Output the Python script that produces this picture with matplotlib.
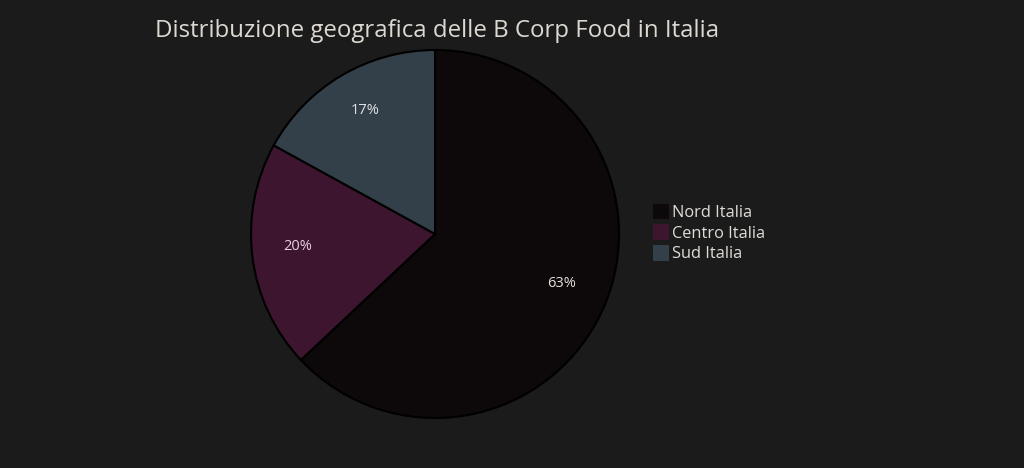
import matplotlib.pyplot as plt
from matplotlib.patches import Patch

plt.rcParams['font.family'] = ['Open Sans', 'DejaVu Sans']

labels = ['Nord Italia', 'Centro Italia', 'Sud Italia']
values = [63, 20, 17]
colors = ['#0d0809', '#3e152f', '#344049']
text_colors = ['#e6e0dc', '#e8cfe0', '#dfe3e6']

bg = '#1b1b1b'

fig = plt.figure(figsize=(10.24, 4.68), dpi=100, facecolor=bg)
# pie axes: center (435, 234) px, radius ~184 px
ax = fig.add_axes([(435 - 184) / 1024, 1 - (234 + 184) / 468, 368 / 1024, 368 / 468])
ax.set_facecolor(bg)

wedges, texts, autotexts = ax.pie(values, colors=colors, startangle=90, counterclock=False,
                                  autopct='%1.0f%%', pctdistance=0.75, radius=1.0,
                                  wedgeprops=dict(edgecolor='black', linewidth=1.5))
for t, c in zip(autotexts, text_colors):
    t.set_color(c)
    t.set_fontsize(10.5)
    x, y = t.get_position()
    t.set_position((x, y + 0.028))
ax.set_xlim(-1.0, 1.0)
ax.set_ylim(-1.0, 1.0)
ax.set_aspect('equal')

fig.text(155 / 1024, 1 - 31 / 468, 'Distribuzione geografica delle B Corp Food in Italia',
         color='#ddd9d2', fontsize=17.3, ha='left', va='center')

handles = [Patch(facecolor=c, edgecolor='none') for c in colors]
leg = fig.legend(handles, labels, loc='upper left', bbox_to_anchor=(646 / 1024, 1 - 197 / 468),
                 frameon=False, fontsize=11.8, handlelength=1.0, handleheight=1.1,
                 handletextpad=0.2, labelspacing=0.2, borderaxespad=0)
for t in leg.get_texts():
    t.set_color('#e0ddd8')

fig.savefig('out.png', dpi=100, facecolor=bg)
